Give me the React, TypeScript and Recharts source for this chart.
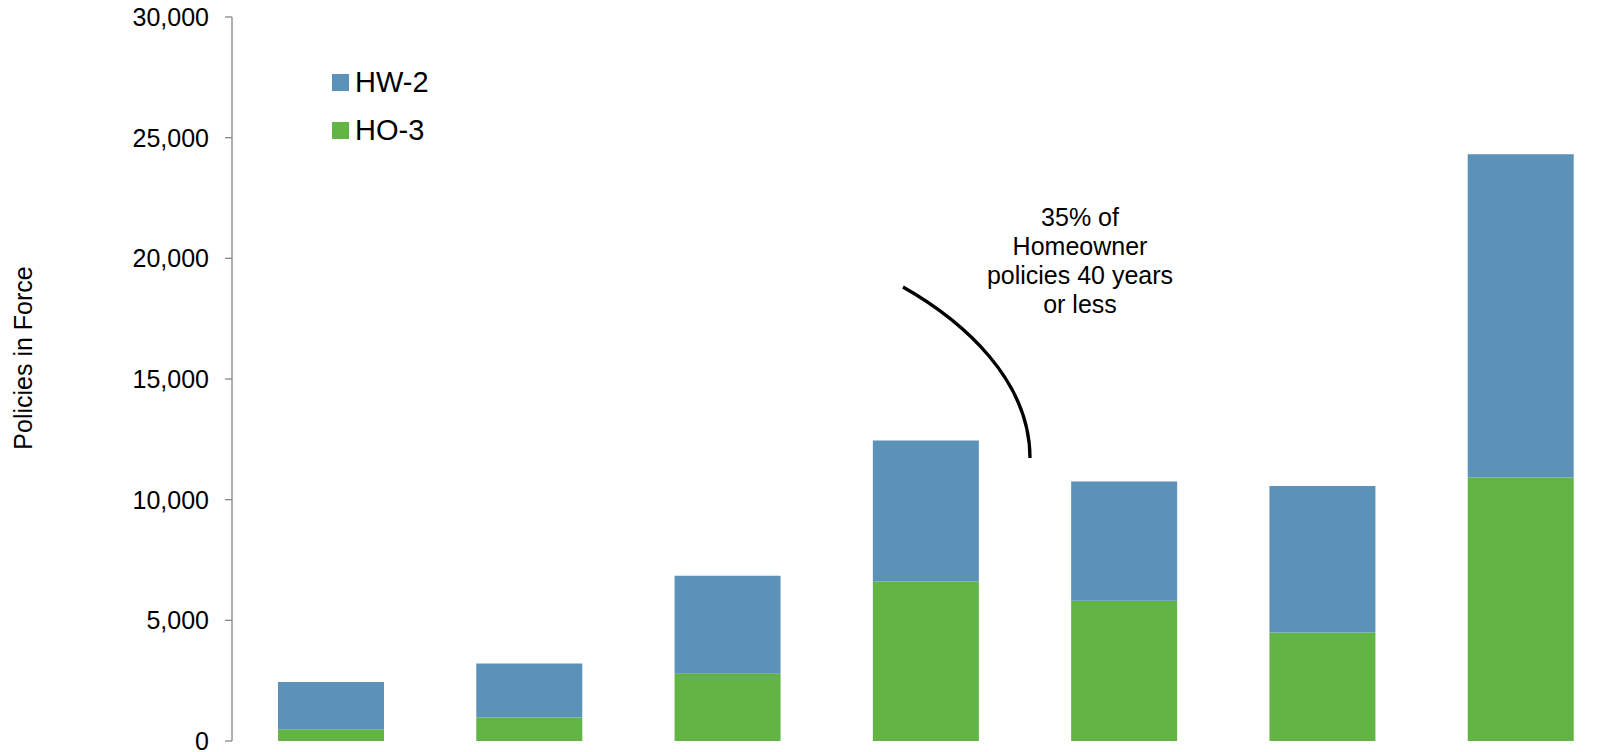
import { BarChart, Bar, XAxis, YAxis, Legend, Label } from "recharts";

const ageBands = ["0-10", "11-20", "21-30", "31-40", "41-50", "51-60", "60+"];
const ho3 = [490, 970, 2785, 6605, 5815, 4500, 10915];
const hw2 = [1950, 2240, 4060, 5845, 4935, 6065, 13400];
const yTicks = [0, 5000, 10000, 15000, 20000, 25000, 30000];

const noteLines = ["35% of", "Homeowner", "policies 40 years", "or less"];

const BLUE = "#5C92B7";
const GREEN = "#62B545";
const AXIS = "#868686";
const FONT = "'Liberation Sans', Arial, sans-serif";

const data = ageBands.map((name, i) => ({ name, ho3: ho3[i], hw2: hw2[i] }));

function LegendBox(props: any) {
    const items = [...(props.payload ?? [])].reverse();
    return (
        <div style={{ fontFamily: FONT, fontSize: 29, color: "#000" }}>
            {items.map((it: any) => (
                <div key={it.value} style={{ display: "flex", alignItems: "center", height: 48 }}>
                    <span style={{ width: 17, height: 17, background: it.color, marginRight: 6 }} />
                    <span>{it.value}</span>
                </div>
            ))}
        </div>
    );
}

function YTitle(props: any) {
    const vb = props.viewBox ?? { x: 0, y: 0, width: 0, height: 0 };
    const x = vb.x + 23;
    const y = vb.y + vb.height / 2 - 21;
    return (
        <text
            x={x}
            y={y}
            transform={`rotate(-90, ${x}, ${y})`}
            textAnchor="middle"
            dominantBaseline="central"
            fontSize={25}
            fontFamily={FONT}
            fill="#000"
        >
            Policies in Force
        </text>
    );
}

export default function App() {
    return (
        <div style={{ position: "absolute", left: 0, top: 0, width: 1602, height: 752, overflow: "hidden", background: "#fff" }}>
            <BarChart
                width={1620}
                height={752}
                data={data}
                margin={{ top: 17, right: 0, bottom: 11, left: 0 }}
                barSize={106}
            >
                <XAxis dataKey="name" hide />
                <YAxis
                    width={232}
                    domain={[0, 30000]}
                    ticks={yTicks}
                    interval={0}
                    tickFormatter={(v: number) => v.toLocaleString("en-US")}
                    tick={{ fontSize: 25, fontFamily: FONT, fill: "#000" }}
                    tickSize={7}
                    tickMargin={16}
                    axisLine={{ stroke: AXIS, strokeWidth: 1.3 }}
                    tickLine={{ stroke: AXIS, strokeWidth: 1.3 }}
                >
                    <Label content={<YTitle />} />
                </YAxis>
                <Legend
                    layout="vertical"
                    align="center"
                    verticalAlign="middle"
                    content={<LegendBox />}
                    wrapperStyle={{ left: 332, top: 58, width: 160 }}
                />
                <Bar dataKey="ho3" name="HO-3" stackId="a" fill={GREEN} isAnimationActive={false} />
                <Bar dataKey="hw2" name="HW-2" stackId="a" fill={BLUE} isAnimationActive={false} />
            </BarChart>
            <svg
                width={1602}
                height={752}
                style={{ position: "absolute", left: 0, top: 0, pointerEvents: "none" }}
            >
                <path
                    d="M 903 287 C 963 321, 1030 380, 1030 458"
                    fill="none"
                    stroke="#000"
                    strokeWidth={3.3}
                />
                <text x={1080} y={225.7} textAnchor="middle" fontSize={25} fontFamily={FONT} fill="#000">
                    {noteLines.map((t, i) => (
                        <tspan key={t} x={1080} dy={i === 0 ? 0 : 29.2}>
                            {t}
                        </tspan>
                    ))}
                </text>
            </svg>
        </div>
    );
}
